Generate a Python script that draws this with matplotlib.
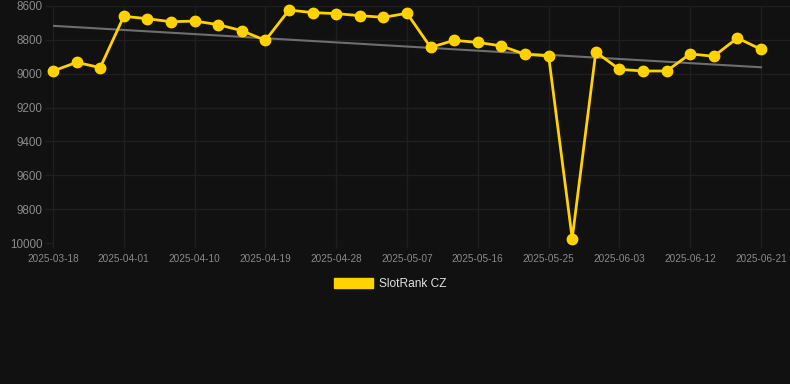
import matplotlib
matplotlib.use("Agg")
import matplotlib.pyplot as plt
from matplotlib.patches import Patch
import numpy as np

dates = ["2025-03-18", "2025-03-23", "2025-03-28",
         "2025-04-01", "2025-04-04", "2025-04-07", "2025-04-10", "2025-04-13",
         "2025-04-16", "2025-04-19", "2025-04-22", "2025-04-25", "2025-04-28",
         "2025-05-01", "2025-05-04", "2025-05-07", "2025-05-10", "2025-05-13",
         "2025-05-16", "2025-05-19", "2025-05-22", "2025-05-25", "2025-05-28",
         "2025-05-31", "2025-06-03", "2025-06-06", "2025-06-09", "2025-06-12",
         "2025-06-15", "2025-06-18", "2025-06-21"]
rank = [8984, 8933, 8964, 8661, 8675, 8693, 8689, 8710, 8746, 8803,
        8624, 8639, 8645, 8657, 8667, 8643, 8844, 8803, 8815, 8836,
        8885, 8895, 9974, 8872, 8974, 8984, 8984, 8883, 8897, 8789, 8856]
y_ticks = [8600, 8800, 9000, 9200, 9400, 9600, 9800, 10000]
series_name = "SlotRank CZ"

bg = "#111111"
grid_col = "#1f1f1f"
gold = "#ffd200"

plt.rcParams['font.family'] = ['Liberation Sans', 'DejaVu Sans']

fig = plt.figure(figsize=(7.9, 3.84), dpi=100)
fig.patch.set_facecolor(bg)
ax = fig.add_axes([53 / 790, 1 - 243 / 384, 1 - 53 / 790, 237 / 384])
ax.set_facecolor(bg)

x = np.arange(len(rank))

# trend line (least squares)
k, b = np.polyfit(x, rank, 1)
ax.plot(x, k * x + b, color="#6e6e6e", linewidth=1.5, zorder=2)

ax.plot(x, rank, color=gold, linewidth=2.0, marker="o", markersize=7.5,
        markerfacecolor=gold, markeredgecolor=gold, zorder=3,
        clip_on=False)

ax.set_xlim(0, len(rank) - 1 + 29 / 23.6)
ax.set_ylim(10000, 8600)

tick_idx = x[::3]
ax.set_xticks(tick_idx)
ax.set_xticklabels([dates[i] for i in tick_idx])
ax.set_yticks(y_ticks)
ax.set_yticklabels([str(v) for v in y_ticks])

ax.grid(True, color=grid_col, linewidth=1)
ax.set_axisbelow(True)
ax.tick_params(axis="x", colors=grid_col, labelcolor="#8a8a8a",
               labelsize=7.2, length=3.6, width=1, pad=4)
ax.tick_params(axis="y", colors=grid_col, labelcolor="#8a8a8a",
               labelsize=8.4, length=5.8, width=1, pad=1.5)
for s in ax.spines.values():
    s.set_visible(False)

leg = fig.legend(handles=[Patch(color=gold)], labels=[series_name],
                 loc="center", bbox_to_anchor=(390 / 790, 1 - 284 / 384),
                 frameon=False, handlelength=3.3, handleheight=0.9,
                 handletextpad=0.5, fontsize=8.6)
for t in leg.get_texts():
    t.set_color("#e0e0e0")

plt.savefig("out.png", dpi=100, facecolor=bg)
plt.close()
